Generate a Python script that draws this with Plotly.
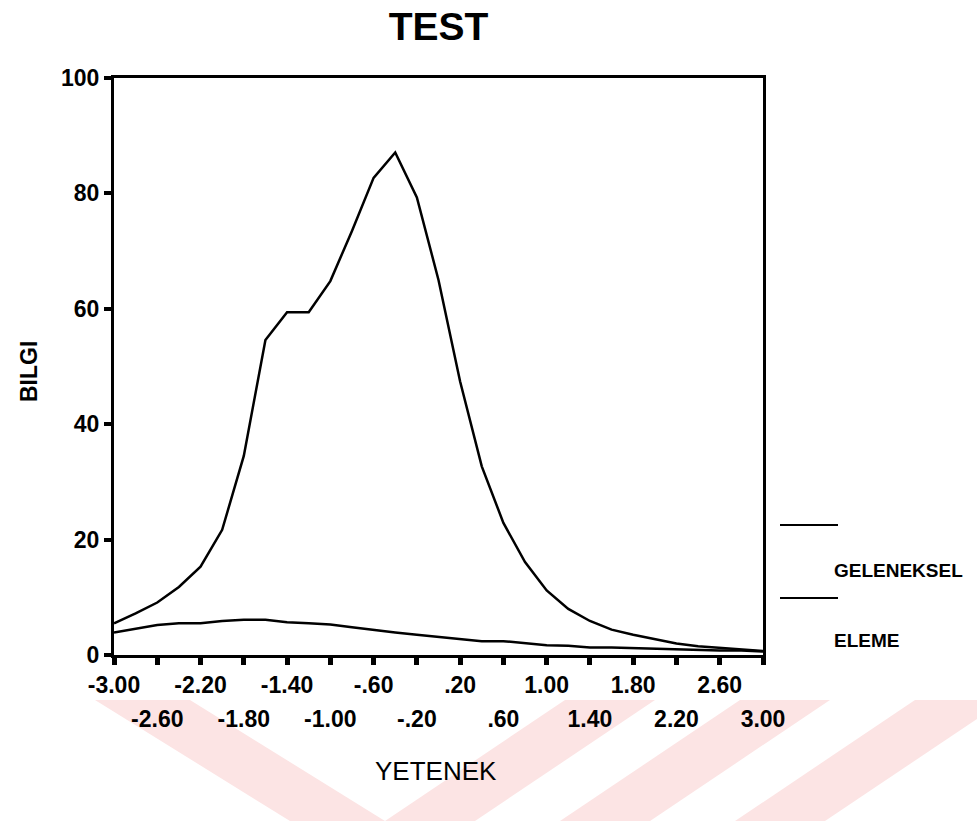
import plotly.graph_objects as go

# ---- data ----
ability = [round(-3.0 + 0.2 * i, 1) for i in range(31)]
geleneksel = [5.5, 7.2, 9.1, 11.8, 15.3, 21.7, 34.5, 54.6, 59.4, 59.4,
              64.8, 73.5, 82.7, 87.1, 79.3, 65.0, 47.4, 32.7, 22.9, 16.1,
              11.2, 8.0, 5.9, 4.4, 3.5, 2.7, 2.0, 1.5, 1.2, 1.0, 0.7]
eleme = [3.9, 4.5, 5.2, 5.5, 5.5, 5.9, 6.1, 6.1, 5.7, 5.5,
         5.3, 4.8, 4.3, 3.9, 3.5, 3.1, 2.7, 2.4, 2.4, 2.0,
         1.7, 1.6, 1.3, 1.3, 1.2, 1.0, 0.9, 0.9, 0.8, 0.8, 0.6]
tick_vals = [round(-3.0 + 0.4 * i, 1) for i in range(16)]
tick_labels = ["-3.00", "-2.60", "-2.20", "-1.80", "-1.40", "-1.00", "-.60", "-.20",
               ".20", ".60", "1.00", "1.40", "1.80", "2.20", "2.60", "3.00"]
y_ticks = [0, 20, 40, 60, 80, 100]
series_names = ["GELENEKSEL", "ELEME"]

FONT = "Liberation Sans, Arial, sans-serif"
W, H = 977, 821
ML, MR, MT, MB = 114, 214, 78, 91
PW, PH = W - ML - MR, H - MT - MB


def px(x):
    return (x - ML) / PW


def py(y):
    return (H - MB - y) / PH


fig = go.Figure()
fig.add_trace(go.Scatter(x=ability, y=geleneksel, mode="lines", name=series_names[0],
                         line=dict(color="black", width=2.5), showlegend=False))
fig.add_trace(go.Scatter(x=ability, y=eleme, mode="lines", name=series_names[1],
                         line=dict(color="black", width=2.5), showlegend=False))
# empty trace so the second (label-only) x axis gets drawn
fig.add_trace(go.Scatter(x=[], y=[], xaxis="x2", yaxis="y", showlegend=False,
                         hoverinfo="skip"))

even_text = [t if i % 2 == 0 else "" for i, t in enumerate(tick_labels)]
odd_vals = [v for i, v in enumerate(tick_vals) if i % 2 == 1]
odd_text = [t for i, t in enumerate(tick_labels) if i % 2 == 1]

tfont = dict(size=23, family=FONT, color="black", weight="bold")

fig.update_layout(
    width=W, height=H,
    margin=dict(l=ML, r=MR, t=MT, b=MB),
    paper_bgcolor="white", plot_bgcolor="rgba(0,0,0,0)",
    font=dict(family=FONT, color="black"),
    title=dict(text="<b>TEST</b>", x=0.5, xref="paper", xanchor="center",
               y=1 - 26 / H, yref="container", yanchor="middle",
               font=dict(size=39, family=FONT, color="black")),
    xaxis=dict(range=[-3, 3], tickmode="array", tickvals=tick_vals, ticktext=even_text,
               ticks="outside", ticklen=7, tickwidth=5, tickcolor="black",
               showline=True, linewidth=3, linecolor="black", mirror=True,
               showgrid=False, zeroline=False, tickfont=tfont, anchor="y"),
    xaxis2=dict(range=[-3, 3], overlaying="x", matches="x", anchor="free", position=0.041,
                side="bottom", tickmode="array", tickvals=odd_vals, ticktext=odd_text,
                ticks="", showline=False, showgrid=False, zeroline=False,
                tickfont=tfont),
    yaxis=dict(range=[0, 100], domain=[0.115, 1], tickmode="array", tickvals=y_ticks,
               ticks="outside", ticklen=7, tickwidth=4, tickcolor="black",
               showline=True, linewidth=3, linecolor="black", mirror=True,
               showgrid=False, zeroline=False, tickfont=tfont),
)

# faint scanned watermark stripes below the chart
pink = "#fce4e4"
bands = [
    [(95, 700), (190, 700), (385, 821), (290, 821)],
    [(385, 821), (475, 821), (655, 700), (565, 700)],
    [(560, 821), (650, 821), (830, 700), (740, 700)],
    [(735, 821), (825, 821), (977, 719), (977, 700), (915, 700)],
]
for poly in bands:
    path = "M " + " L ".join(f"{px(a):.4f},{py(b):.4f}" for a, b in poly) + " Z"
    fig.add_shape(type="path", path=path, xref="paper", yref="paper",
                  fillcolor=pink, line=dict(width=0), layer="below")

# axis titles
fig.add_annotation(text="<b>BILGI</b>", xref="paper", yref="paper",
                   x=px(29), y=py(372), textangle=-90,
                   showarrow=False, xanchor="center", yanchor="middle",
                   font=dict(size=23, family=FONT, color="black"))
fig.add_annotation(text="YETENEK", xref="paper", yref="paper",
                   x=px(436), y=py(771),
                   showarrow=False, xanchor="center", yanchor="middle",
                   font=dict(size=26, family=FONT, color="black"))

# legend (line sample above, label below-right, as in the reference)
leg_rows = [(525, 570), (598, 640)]
for name, (ly, ty) in zip(series_names, leg_rows):
    fig.add_shape(type="line", xref="paper", yref="paper",
                  x0=px(780), x1=px(838), y0=py(ly), y1=py(ly),
                  line=dict(color="black", width=2))
    fig.add_annotation(text="<b>" + name + "</b>", xref="paper", yref="paper",
                       x=px(832), y=py(ty),
                       showarrow=False, xanchor="left", yanchor="middle",
                       font=dict(size=19, family=FONT, color="black"))

fig.write_html("out.html")
